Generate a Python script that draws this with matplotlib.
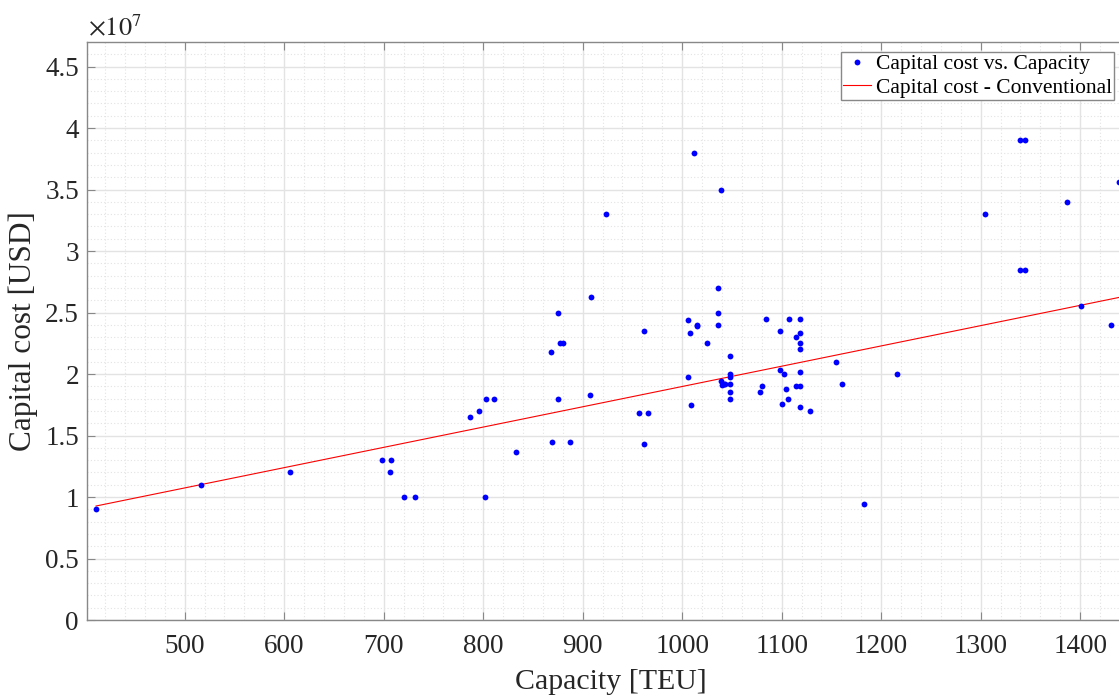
import matplotlib
matplotlib.use("Agg")
import matplotlib.pyplot as plt
from matplotlib.ticker import MultipleLocator, FuncFormatter

plt.rcParams['font.family'] = ['Liberation Serif', 'DejaVu Serif']
plt.rcParams['mathtext.fontset'] = 'stix'

# ship capacity [TEU] and capital cost [USD]
capacity = [411, 516, 606, 698, 707, 706, 720, 732,
            787, 796, 803, 811, 802, 833,
            868, 875, 877, 880, 875, 869, 887, 907, 908, 924,
            957, 966, 962, 962,
            1006, 1008, 1006, 1009, 1012, 1039, 1015, 1015, 1025,
            1036, 1036, 1036, 1039, 1040, 1042, 1043,
            1048, 1048, 1048, 1048, 1048, 1048,
            1084, 1107, 1118, 1098, 1114, 1118, 1118, 1118, 1155,
            1098, 1102, 1118, 1216, 1080, 1078, 1104, 1114, 1118, 1161,
            1106, 1100, 1118, 1129, 1183,
            1340, 1345, 1304, 1387, 1340, 1345, 1439, 1401, 1431]
cost = [9.0e6, 1.10e7, 1.20e7, 1.30e7, 1.30e7, 1.20e7, 1.0e7, 1.0e7,
        1.65e7, 1.70e7, 1.80e7, 1.80e7, 1.0e7, 1.37e7,
        2.18e7, 2.50e7, 2.25e7, 2.25e7, 1.80e7, 1.45e7, 1.45e7, 1.83e7, 2.63e7, 3.30e7,
        1.68e7, 1.68e7, 2.35e7, 1.43e7,
        2.44e7, 2.33e7, 1.98e7, 1.75e7, 3.80e7, 3.50e7, 2.40e7, 2.39e7, 2.25e7,
        2.70e7, 2.50e7, 2.40e7, 1.94e7, 1.91e7, 1.92e7, 1.92e7,
        2.15e7, 2.00e7, 1.98e7, 1.92e7, 1.85e7, 1.80e7,
        2.45e7, 2.45e7, 2.45e7, 2.35e7, 2.30e7, 2.33e7, 2.25e7, 2.20e7, 2.10e7,
        2.03e7, 2.00e7, 2.02e7, 2.00e7, 1.90e7, 1.85e7, 1.88e7, 1.90e7, 1.90e7, 1.92e7,
        1.80e7, 1.76e7, 1.73e7, 1.70e7, 9.4e6,
        3.90e7, 3.90e7, 3.30e7, 3.40e7, 2.85e7, 2.85e7, 3.56e7, 2.55e7, 2.40e7]

# conventional cost line (end points)
line_x = [411, 1450]
line_y = [9.27e6, 2.641e7]

fig = plt.figure(figsize=(11.19, 6.96), dpi=100)
W, H = 1119, 696
ax = fig.add_axes([87.3 / W, 1 - 620 / H, (1135 - 87.3) / W, (620 - 42) / H])

ax.plot(capacity, cost, 'o', color='#0000ff', markersize=4.2, markeredgewidth=0,
        label='Capital cost vs. Capacity', zorder=3)
ax.plot(line_x, line_y, '-', color='#ff0000', linewidth=0.8,
        label='Capital cost - Conventional', zorder=2)

ax.set_xlim(402.2, 402.2 + (1135 - 87.3) / 0.995)
ax.set_ylim(0, 4.7e7)
ax.xaxis.set_major_locator(MultipleLocator(100))
ax.xaxis.set_minor_locator(MultipleLocator(20))
ax.yaxis.set_major_locator(MultipleLocator(5e6))
ax.yaxis.set_minor_locator(MultipleLocator(1e6))
ax.set_xticks([500, 600, 700, 800, 900, 1000, 1100, 1200, 1300, 1400])
ax.yaxis.set_major_formatter(FuncFormatter(lambda v, p: f"{v / 1e7:g}"))

ax.grid(which='major', color='#e3e3e3', linewidth=1.0)
ax.grid(which='minor', color='#e3e3e3', linewidth=0.8, linestyle=(0, (1, 2)))
ax.set_axisbelow(True)

for s in ax.spines.values():
    s.set_color('#888888')
    s.set_linewidth(1.0)
ax.tick_params(which='both', direction='in', top=True, right=True, colors='#888888',
               labelcolor='#262626', labelsize=19.5)
ax.tick_params(which='major', length=6)
ax.tick_params(which='minor', length=0)
ax.tick_params(axis='x', pad=10)
ax.tick_params(axis='y', pad=6)

ax.set_xlabel('Capacity [TEU]', fontsize=21.5, color='#262626', labelpad=7)
ax.set_ylabel('Capital cost [USD]', fontsize=22.5, color='#262626', labelpad=5)
fig.text(88 / W, 1 - 28 / H, r'$\times10^{7}$', fontsize=19, color='#262626',
         ha='left', va='center')

leg = ax.legend(loc='upper right', bbox_to_anchor=(1114 / W, 1 - 52 / H),
                bbox_transform=fig.transFigure, borderaxespad=0, fancybox=False,
                framealpha=1, edgecolor='#888888', fontsize=15.5, handlelength=1.3,
                handletextpad=0.2, borderpad=0.1, labelspacing=0.15)
leg.get_frame().set_linewidth(1.0)

fig.savefig('out.png', dpi=100)
